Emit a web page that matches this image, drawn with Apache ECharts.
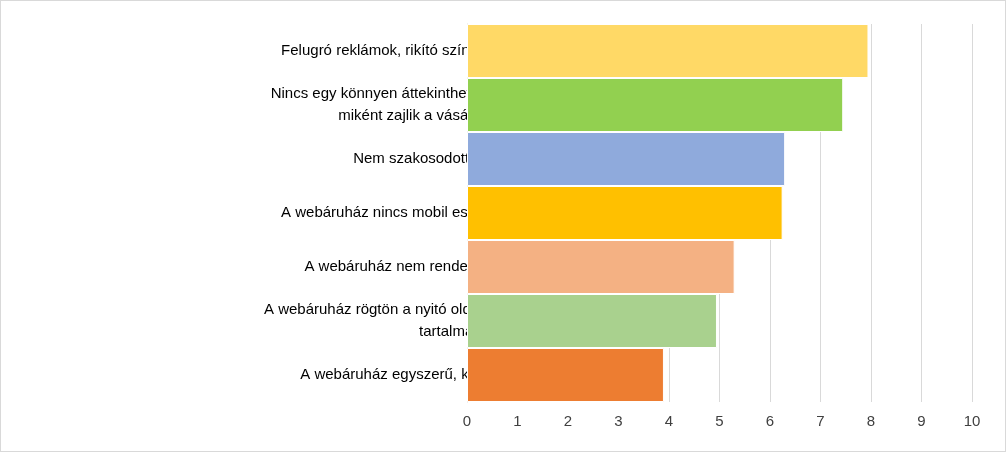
<!DOCTYPE html>
<html>
<head>
<meta charset="utf-8">
<script src="https://cdn.jsdelivr.net/npm/echarts@6/dist/echarts.min.js"></script>
<style>
  html, body { margin: 0; padding: 0; background: #fff; }
  #main { width: 1004px; height: 450px; border: 1px solid #d9d9d9; }
</style>
</head>
<body>
<div id="main"></div>
<script>
// bottom-to-top order
var categories = [
  'A webáruház egyszerű, könnyen áttekinthető.',
  'A webáruház rögtön a nyitó oldalán rengeteg információt\ntartalmaz.',
  'A webáruház nem rendelkezik applikációval.',
  'A webáruház nincs mobil eszközökre optimalizálva.',
  'Nem szakosodott webáruház.',
  'Nincs egy könnyen áttekinthető leírás, ábra arról, hogy\nmiként zajlik a vásárlás folyamata.',
  'Felugró reklámok, rikító színű reklám szalagok, stb.'
];
var values = [3.9, 4.95, 5.3, 6.25, 6.3, 7.45, 7.95];
var colors = ['#ED7D31', '#A9D18E', '#F4B183', '#FFC000', '#8FAADC', '#92D050', '#FFD966'];

var myChart = echarts.init(document.getElementById('main'));
var option = {
  animation: false,
  grid: { left: 466, right: 33, top: 23, bottom: 49 },
  xAxis: {
    type: 'value', min: 0, max: 10, interval: 1,
    axisLine: { show: false }, axisTick: { show: false },
    splitLine: { lineStyle: { color: '#d9d9d9' } },
    axisLabel: { color: '#404040', fontSize: 15, fontFamily: 'Liberation Sans', margin: 12 }
  },
  yAxis: {
    type: 'category', data: categories,
    axisLine: { lineStyle: { color: '#d9d9d9' } }, axisTick: { show: false },
    axisLabel: {
      color: '#000', fontSize: 15, fontFamily: 'Liberation Sans', margin: 15, lineHeight: 22,
      align: 'right',
      textStyle: { align: 'center' }
    }
  },
  series: [{
    type: 'bar', barCategoryGap: 0,
    data: values.map(function (v, i) { return { value: v, itemStyle: { color: colors[i] } }; }),
    itemStyle: { borderColor: '#fff', borderWidth: 1 }
  }]
};
myChart.setOption(option);
// center multi-line labels by shifting the block: use rich text line alignment
myChart.setOption({
  yAxis: {
    axisLabel: {
      formatter: function (s) {
        return s.split('\n').map(function (l) { return '{c|' + l + '}'; }).join('\n');
      },
      rich: { c: { fontSize: 15, fontFamily: 'Liberation Sans', color: '#000', lineHeight: 22, align: 'center' } }
    }
  }
});
</script>
</body>
</html>
